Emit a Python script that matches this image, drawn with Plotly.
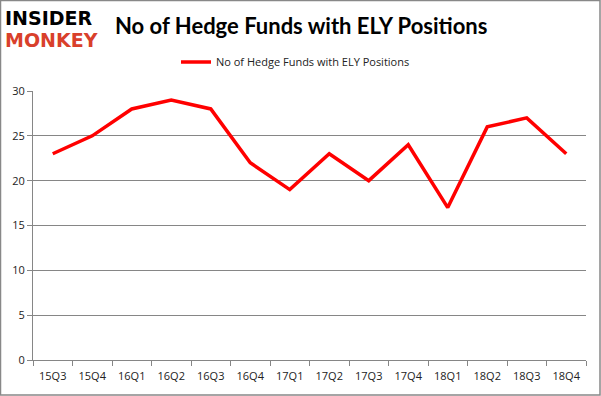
import plotly.graph_objects as go

quarters = ["15Q3", "15Q4", "16Q1", "16Q2", "16Q3", "16Q4", "17Q1", "17Q2",
            "17Q3", "17Q4", "18Q1", "18Q2", "18Q3", "18Q4"]
funds = [23, 25, 28, 29, 28, 22, 19, 23, 20, 24, 17, 26, 27, 23]
series_name = "No of Hedge Funds with ELY Positions"
title_text = "No of Hedge Funds with ELY Positions"

W, H = 601, 396
L, R, T, B = 33, 15, 91, 36
pw, ph = W - L - R, H - T - B

def px(x):
    return (x - L) / pw

def py(y):
    return (H - B - y) / ph

fig = go.Figure()
fig.add_trace(go.Scatter(x=quarters, y=funds, mode="lines", name=series_name,
                         line=dict(color="#ff0000", width=3.5)))

fig.update_layout(
    width=W, height=H,
    margin=dict(l=L, r=R, t=T, b=B),
    paper_bgcolor="white", plot_bgcolor="white",
    showlegend=True,
    legend=dict(orientation="h", x=px(176), y=py(62), xanchor="left", yanchor="middle",
                font=dict(family="Open Sans, Liberation Sans, sans-serif", size=11, color="#222"),
                bgcolor="rgba(0,0,0,0)"),
    xaxis=dict(type="category", showgrid=False, showline=True, linecolor="#868686",
               linewidth=1, ticks="outside", tickson="boundaries", ticklen=5,
               tickcolor="#868686", ticklabelstandoff=6,
               tickfont=dict(family="Open Sans, Liberation Sans, sans-serif", size=11, color="#222"),
               range=[-0.5, 13.5]),
    yaxis=dict(range=[0, 30], dtick=5, showgrid=True, gridcolor="#868686", gridwidth=1,
               showline=True, linecolor="#868686", ticks="outside", ticklen=5,
               tickcolor="#868686", zeroline=False,
               tickfont=dict(family="Open Sans, Liberation Sans, sans-serif", size=11, color="#222")),
    annotations=[
        dict(text="<b>" + title_text + "</b>", xref="paper", yref="paper",
             x=px(301), y=py(25), xanchor="center", yanchor="middle", showarrow=False,
             font=dict(family="Lato, Open Sans, sans-serif", size=22, color="black")),
        dict(text="<b>INSIDER</b>", xref="paper", yref="paper",
             x=px(3), y=py(18), xanchor="left", yanchor="middle", showarrow=False,
             font=dict(family="DejaVu Sans, sans-serif", size=19, color="black")),
        dict(text="<b>MONKEY</b>", xref="paper", yref="paper",
             x=px(3), y=py(40), xanchor="left", yanchor="middle", showarrow=False,
             font=dict(family="DejaVu Sans, sans-serif", size=19, color="#d9402b")),
    ],
    shapes=[
        dict(type="rect", xref="paper", yref="paper",
             x0=px(0.5), x1=px(W - 1), y0=py(H - 1), y1=py(0.5),
             line=dict(color="#888888", width=1.5), fillcolor="rgba(0,0,0,0)"),
    ],
)

fig.write_html("out.html", config={"displayModeBar": False},
               post_script="document.body.style.margin='0px';")
